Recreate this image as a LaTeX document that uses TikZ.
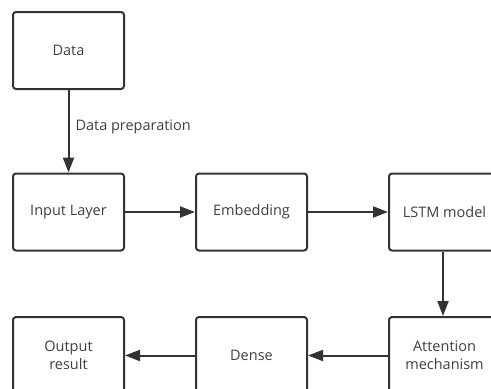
\documentclass[tikz,border=0pt]{standalone}
\usepackage{fontspec}
\setmainfont{Open Sans}
\usetikzlibrary{positioning, arrows.meta}
\definecolor{lineGray}{RGB}{51,51,51}
\definecolor{textGray}{RGB}{64,64,64}

\begin{document}
\begin{tikzpicture}[
  x=1pt, y=-1pt,
  box/.style={draw=lineGray, line width=2pt, rounded corners=3pt, fill=white,
    minimum width=111pt, minimum height=77pt, inner sep=0pt,
    align=center, text=textGray, font=\fontsize{14.5}{18}\selectfont},
  flow/.style={draw=lineGray, line width=2pt, -{Triangle[length=15pt, width=11pt]}},
  lbl/.style={text=textGray, font=\fontsize{14.5}{18}\selectfont, anchor=west, inner sep=0pt},
]
  \path[use as bounding box, clip] (0,0) rectangle (491,389);
  \node[box] (data)   at (68.5, 50.5)  {Data};
  \node[box] (input)  at (68.5, 212) {Input Layer};
  \node[box] (embed)  at (251.5,212) {Embedding};
  \node[box] (lstm)   at (444.5,212) {LSTM model};
  \node[box] (attn)   at (444.5,355.5) {Attention\\mechanism};
  \node[box] (dense)  at (251.5,355.5) {Dense};
  \node[box] (output) at (68.5, 355.5) {Output\\result};
  \draw[flow] (data) -- node[lbl, pos=0.45, xshift=6pt] {Data preparation} (input);
  \draw[flow] (input) -- (embed);
  \draw[flow] (embed) -- (lstm);
  \draw[flow] (lstm.south -| 443,0) -- (attn.north -| 443,0);
  \draw[flow] (attn) -- (dense);
  \draw[flow] (dense) -- (output);
\end{tikzpicture}
\end{document}
